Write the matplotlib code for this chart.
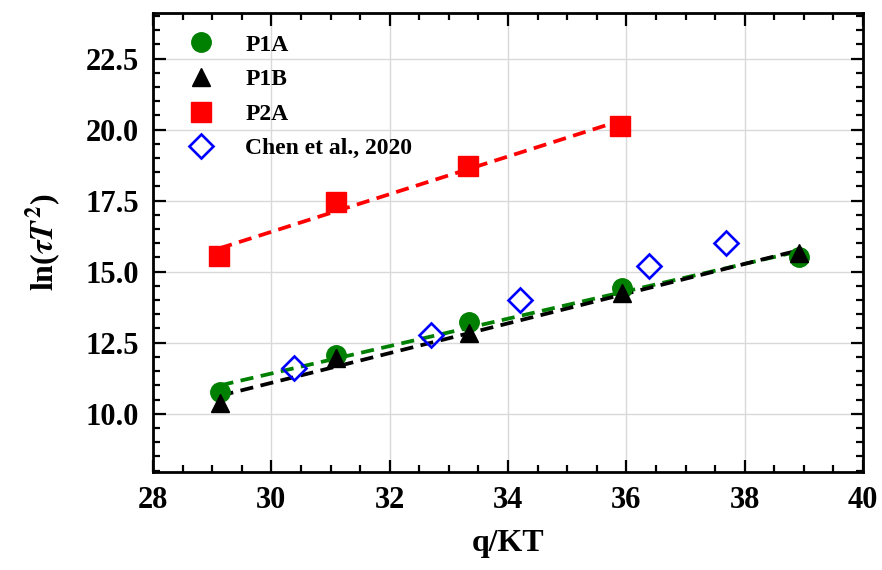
import numpy as np
import matplotlib
matplotlib.use('Agg')
import matplotlib.pyplot as plt
from matplotlib.ticker import MultipleLocator, FormatStrFormatter

plt.rcParams['font.family'] = ['Liberation Serif', 'DejaVu Serif']
plt.rcParams['font.weight'] = 'bold'
plt.rcParams['mathtext.fontset'] = 'stix'

# data
x_p1a = [29.14, 31.10, 33.34, 35.93, 38.92]
y_p1a = [10.75, 12.06, 13.22, 14.44, 15.50]

x_p1b = [29.14, 31.10, 33.34, 35.93, 38.92]
y_p1b = [10.38, 11.95, 12.85, 14.25, 15.65]

x_p2a = [29.12, 31.09, 33.32, 35.90]
y_p2a = [15.54, 17.45, 18.73, 20.14]

x_chen = [30.39, 32.70, 34.20, 36.39, 37.69]
y_chen = [11.62, 12.76, 14.00, 15.19, 16.00]

fig = plt.figure(figsize=(8.82, 5.70), dpi=100)
ax = fig.add_axes([0.1735, 0.172, 0.805, 0.805])

def fit_line(x, y, color):
    k, b = np.polyfit(x, y, 1)
    xx = np.array([min(x), max(x)])
    ax.plot(xx, k * xx + b, color=color, lw=2.7, dashes=(3.5, 2.0), zorder=2)

fit_line(x_p1a, y_p1a, 'green')
fit_line(x_p1b, y_p1b, 'black')
fit_line(x_p2a, y_p2a, 'red')

ax.plot(x_p1a, y_p1a, 'o', color='green', ms=14, label='P1A', zorder=3)
ax.plot(x_p1b, y_p1b, '^', color='black', ms=12.5, label='P1B', zorder=4)
ax.plot(x_p2a, y_p2a, 's', color='red', ms=14, label='P2A', zorder=3)
ax.plot(x_chen, y_chen, 'D', mfc='none', mec='blue', mew=1.9, ms=12.5,
        label='Chen et al., 2020', zorder=3)

ax.set_xlim(28, 40)
ax.set_ylim(7.95, 24.1)
ax.xaxis.set_major_locator(MultipleLocator(2))
ax.xaxis.set_minor_locator(MultipleLocator(0.5))
ax.set_yticks([10.0, 12.5, 15.0, 17.5, 20.0, 22.5])
ax.yaxis.set_minor_locator(MultipleLocator(0.5))
ax.yaxis.set_major_formatter(FormatStrFormatter('%.1f'))

ax.grid(True, which='major', color='#d9d9d9', lw=1.0)
ax.set_axisbelow(True)
ax.tick_params(which='both', direction='in', top=True, right=True, labelsize=22, width=1.6)
ax.tick_params(which='major', length=9, pad=10)
ax.tick_params(which='minor', length=5)
for s in ax.spines.values():
    s.set_linewidth(2.0)

ax.set_xlabel('q/KT', fontsize=23, fontweight='bold', labelpad=10)
ax.set_ylabel(r'ln($\tau T^2$)', fontsize=23, fontweight='bold', labelpad=16)

ax.legend(loc='upper left', bbox_to_anchor=(0.0, 1.026), frameon=False,
          handlelength=1.3, handletextpad=1.2, labelspacing=0.55,
          borderaxespad=1.0, borderpad=0.4, prop={'weight': 'bold', 'size': 17})

fig.savefig('out.png', dpi=100)
